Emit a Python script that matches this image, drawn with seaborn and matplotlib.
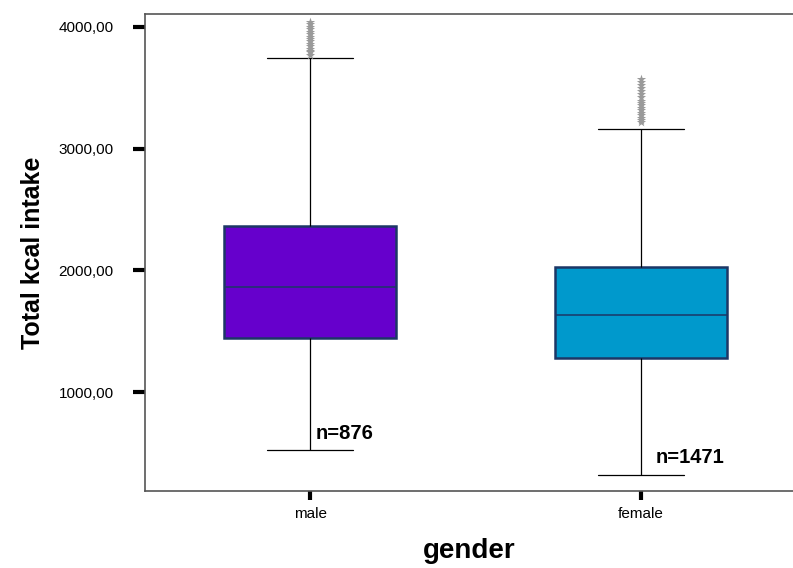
import pandas as pd
import matplotlib
matplotlib.use("Agg")
import matplotlib.pyplot as plt
import seaborn as sns

# 1. DATA
genders = ["male", "female"]
# five-number summaries: low whisker, Q1, median, Q3, high whisker
male_box = [523, 1441, 1860, 2362, 3748]
female_box = [318, 1277, 1630, 2025, 3164]
# extreme values drawn as stars above the whiskers
male_outliers = [3770, 3790, 3805, 3820, 3840, 3860, 3880, 3900, 3920, 3940,
                 3960, 3980, 4000, 4020, 4040]
female_outliers = [3215, 3235, 3255, 3275, 3295, 3315, 3335, 3355, 3375, 3395,
                   3420, 3445, 3470, 3495, 3520, 3545, 3570]
n_labels = ["n=876", "n=1471"]
y_ticks = [1000, 2000, 3000, 4000]
y_tick_labels = ["1000,00", "2000,00", "3000,00", "4000,00"]
box_colors = {"male": "#6600CC", "female": "#0099CC"}

box_df = pd.DataFrame({
    "gender": ["male"] * len(male_box) + ["female"] * len(female_box),
    "kcal": male_box + female_box,
})
out_df = pd.DataFrame({
    "gender": ["male"] * len(male_outliers) + ["female"] * len(female_outliers),
    "kcal": male_outliers + female_outliers,
})

# 2. PLOT
sns.set_style("white")
plt.rcParams["font.family"] = ["Liberation Sans", "DejaVu Sans"]
plt.rcParams["text.color"] = "black"
plt.rcParams["axes.labelcolor"] = "black"
plt.rcParams["xtick.color"] = "black"
plt.rcParams["ytick.color"] = "black"

fig = plt.figure(figsize=(7.93, 5.68), dpi=100)
ax = fig.add_axes([0.183, 0.1356, 0.817, 0.84])

edge = "#1c3766"
sns.boxplot(data=box_df, x="gender", y="kcal", hue="gender", order=genders,
            hue_order=genders, palette=box_colors, saturation=1, whis=(0, 100),
            showfliers=False, width=0.52, legend=False, ax=ax,
            boxprops={"edgecolor": edge, "linewidth": 1.8},
            medianprops={"color": edge, "linewidth": 1.1},
            whiskerprops={"color": "black", "linewidth": 0.9},
            capprops={"color": "black", "linewidth": 0.9})

sns.stripplot(data=out_df, x="gender", y="kcal", order=genders, jitter=False,
              marker="*", size=7, color="#9a9a9a", linewidth=0, ax=ax)

# sample size labels
ax.text(0.015, 663, n_labels[0], fontsize=14.5, fontweight="bold", va="center")
ax.text(1.045, 458, n_labels[1], fontsize=14.5, fontweight="bold", va="center")

ax.set_xlim(-0.5, 1.46)
ax.set_ylim(187, 4107)
ax.set_yticks(y_ticks)
ax.set_yticklabels(y_tick_labels, fontsize=11)
ax.set_xticks([0, 1])
ax.set_xticklabels(genders, fontsize=11)

ax.tick_params(axis="both", direction="out", width=3,
               color="black", left=True, bottom=True)
ax.tick_params(axis="y", length=8.5, pad=14)
ax.tick_params(axis="x", length=6.5, pad=5)

for side in ["left", "top", "bottom"]:
    ax.spines[side].set_color("#555555")
    ax.spines[side].set_linewidth(1.2)
ax.spines["right"].set_visible(False)

ax.set_xlabel("gender", fontsize=20, fontweight="bold", labelpad=12)
ax.set_ylabel("Total kcal intake", fontsize=18, fontweight="bold", labelpad=10)

fig.savefig("out.png", dpi=100)
